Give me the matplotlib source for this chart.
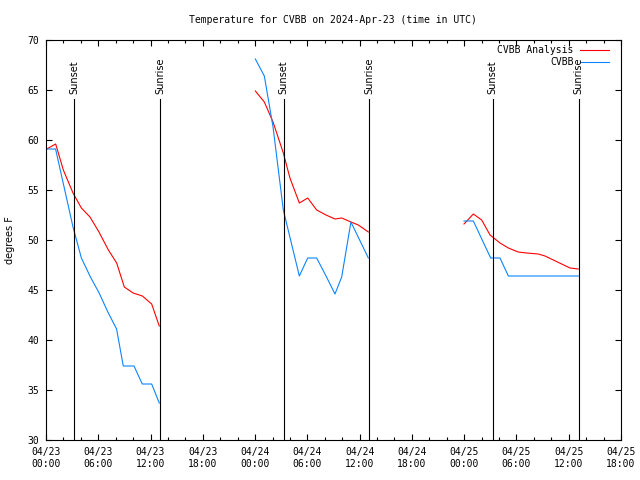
import matplotlib
matplotlib.use('Agg')
import matplotlib.pyplot as plt
import numpy as np

# heures depuis 04/23 00:00 UTC
obs_h1 = [0.08, 1.1, 2.1, 3.1, 4.06, 5.1, 6.1, 7.1, 8.1, 8.87, 10.1, 11.05, 12.13, 13.0]
obs_t1 = [59.1, 59.1, 55.2, 51.3, 48.2, 46.3, 44.7, 42.8, 41.1, 37.4, 37.4, 35.6, 35.6, 33.7]
ana_h1 = [0.08, 1.11, 1.99, 3.1, 4.06, 5.05, 6.08, 7.16, 8.11, 8.99, 10.0, 11.06, 12.13, 13.0]
ana_t1 = [59.1, 59.6, 57.0, 54.7, 53.2, 52.3, 50.8, 49.0, 47.7, 45.3, 44.7, 44.4, 43.6, 41.4]

obs_h2 = [24.03, 25.06, 26.06, 27.24, 29.08, 30.04, 31.07, 32.14, 33.17, 33.94, 35.0, 37.0]
obs_t2 = [68.1, 66.4, 61.3, 53.0, 46.4, 48.2, 48.2, 46.4, 44.6, 46.3, 51.8, 48.2]
ana_h2 = [24.03, 25.06, 26.06, 27.24, 28.0, 29.08, 30.04, 31.07, 32.14, 33.17, 33.94, 35.0, 35.85, 37.0]
ana_t2 = [64.9, 63.8, 61.8, 58.7, 56.2, 53.7, 54.2, 53.0, 52.5, 52.1, 52.2, 51.8, 51.5, 50.8]

obs_h3 = [47.98, 49.05, 51.04, 52.11, 53.07, 54.1, 55.1, 56.1, 57.1, 58.1, 59.1, 60.1, 61.1]
obs_t3 = [51.9, 51.9, 48.2, 48.2, 46.4, 46.4, 46.4, 46.4, 46.4, 46.4, 46.4, 46.4, 46.4]
ana_h3 = [47.98, 49.05, 50.01, 50.97, 52.11, 53.07, 54.2, 55.17, 56.5, 57.28, 58.23, 59.19, 60.15, 61.1]
ana_t3 = [51.6, 52.6, 52.0, 50.5, 49.7, 49.2, 48.8, 48.7, 48.6, 48.4, 48.0, 47.6, 47.2, 47.1]

sunset_h = [3.25, 27.28, 51.27]
sunrise_h = [13.13, 37.12, 61.16]

xtick_h = [0, 6, 12, 18, 24, 30, 36, 42, 48, 54, 60, 66]
xtick_lab = ['04/23\n00:00', '04/23\n06:00', '04/23\n12:00', '04/23\n18:00',
             '04/24\n00:00', '04/24\n06:00', '04/24\n12:00', '04/24\n18:00',
             '04/25\n00:00', '04/25\n06:00', '04/25\n12:00', '04/25\n18:00']

ROUGE = '#ff0000'
BLEU = '#0d84ff'
mono = 'DejaVu Sans Mono'

fig = plt.figure(figsize=(6.4, 4.8), dpi=100)
ax = fig.add_axes([46 / 640, 40 / 480, 575 / 640, 400 / 480])

for h, t in [(ana_h1, ana_t1), (ana_h2, ana_t2), (ana_h3, ana_t3)]:
    ax.plot(h, t, color=ROUGE, lw=0.8)
for h, t in [(obs_h1, obs_t1), (obs_h2, obs_t2), (obs_h3, obs_t3)]:
    ax.plot(h, t, color=BLEU, lw=0.8)

# lignes coucher / lever du soleil
for x in sunset_h:
    ax.plot([x, x], [30, 64.1], color='black', lw=0.8)
    ax.text(x, 64.6, 'Sunset', rotation=90, ha='center', va='bottom', fontsize=7)
for x in sunrise_h:
    ax.plot([x, x], [30, 64.1], color='black', lw=0.8)
    ax.text(x, 64.6, 'Sunrise', rotation=90, ha='center', va='bottom', fontsize=7)

# légende à la gnuplot
ax.text(0.918, 0.976, 'CVBB Analysis', transform=ax.transAxes, ha='right', va='center',
        fontsize=7, family=mono)
ax.plot([0.928, 0.979], [0.976, 0.976], transform=ax.transAxes, color=ROUGE, lw=0.8)
ax.text(0.918, 0.946, 'CVBB', transform=ax.transAxes, ha='right', va='center',
        fontsize=7, family=mono)
ax.plot([0.928, 0.979], [0.946, 0.946], transform=ax.transAxes, color=BLEU, lw=0.8)

ax.set_xlim(0, 66)
ax.set_ylim(30, 70)
ax.set_xticks(xtick_h)
ax.set_xticklabels(xtick_lab, fontsize=7, family=mono, linespacing=1.3)
ax.set_xticks(np.arange(0, 67, 2), minor=True)
ax.set_yticks(np.arange(30, 71, 5))
ax.set_yticklabels([str(v) for v in range(30, 71, 5)], fontsize=7, family=mono)
ax.tick_params(which='both', direction='in', top=True, right=True, width=0.8)
ax.tick_params(which='major', length=4.5, pad=5)
ax.tick_params(which='minor', length=2.2)
for s in ax.spines.values():
    s.set_linewidth(0.8)

ax.set_ylabel('degrees F', fontsize=7, labelpad=9)
fig.text(0.52, 0.958, 'Temperature for CVBB on 2024-Apr-23 (time in UTC)',
         ha='center', va='center', fontsize=7, family=mono)

fig.savefig('out.png', dpi=100)
